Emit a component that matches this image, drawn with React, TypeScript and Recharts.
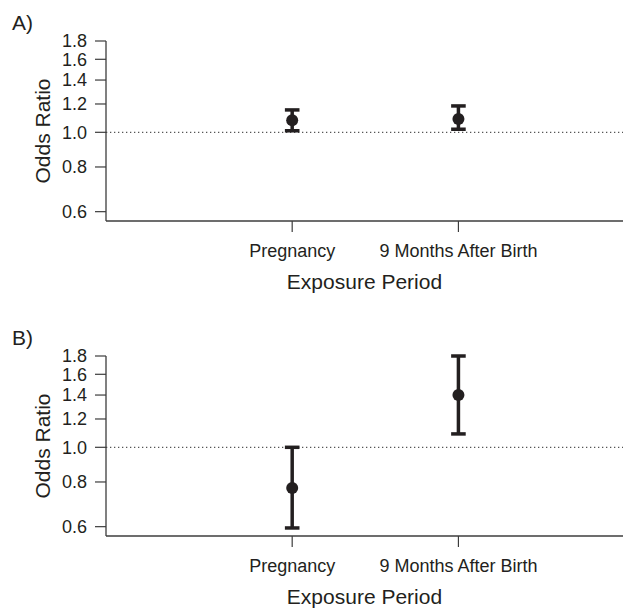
import {
  ScatterChart, Scatter, XAxis, YAxis, ErrorBar, ReferenceLine,
} from 'recharts';

// Exposure periods (x categories)
const CATEGORIES = ['Pregnancy', '9 Months After Birth'];

// Panel A: odds ratios with 95% CI
const A_OR = [1.08, 1.09];
const A_LOWER = [1.01, 1.02];
const A_UPPER = [1.155, 1.185];

// Panel B: odds ratios with 95% CI
const B_OR = [0.77, 1.4];
const B_LOWER = [0.595, 1.09];
const B_UPPER = [1.0, 1.8];

const Y_TICKS = [0.6, 0.8, 1.0, 1.2, 1.4, 1.6, 1.8];

const INK = '#231f20';
const AXIS = '#3c3c3c';
const FONT = "'Liberation Sans', Arial, Helvetica, sans-serif";

const TICK = { fontSize: 18, fill: INK, fontFamily: FONT };

function buildRows(or: number[], lower: number[], upper: number[]) {
  return CATEGORIES.map((name, i) => ({
    name,
    x: i + 1,
    or: or[i],
    err: [or[i] - lower[i], upper[i] - or[i]],
  }));
}

interface PanelProps {
  tag: string;
  or: number[];
  lower: number[];
  upper: number[];
}

function Panel({ tag, or, lower, upper }: PanelProps) {
  const rows = buildRows(or, lower, upper);
  return (
    <ScatterChart
      width={623}
      height={315}
      margin={{ top: 41, right: 0, bottom: 0, left: 0 }}
    >
      <XAxis
        type="number"
        dataKey="x"
        domain={[-0.12, 2.99]}
        ticks={[1, 2]}
        interval={0}
        allowDataOverflow
        tickFormatter={(v: number) => CATEGORIES[v - 1] ?? ''}
        tick={TICK}
        tickSize={11}
        tickMargin={12}
        height={94}
        axisLine={{ stroke: AXIS, strokeWidth: 1.3 }}
        tickLine={{ stroke: AXIS, strokeWidth: 1.2 }}
        label={{
          value: 'Exposure Period',
          position: 'insideBottom',
          offset: 26,
          style: { fontSize: 21, fill: INK, fontFamily: FONT },
        }}
      />
      <YAxis
        type="number"
        dataKey="or"
        scale="log"
        domain={[0.565, 1.8]}
        allowDataOverflow
        ticks={Y_TICKS}
        interval={0}
        tickFormatter={(v: number) => v.toFixed(1)}
        tick={TICK}
        tickSize={11}
        tickMargin={8}
        width={106}
        axisLine={{ stroke: AXIS, strokeWidth: 1.3 }}
        tickLine={{ stroke: AXIS, strokeWidth: 1.2 }}
        label={{
          content: (p: any) => {
            const vb = p.viewBox || { y: 41, height: 180 };
            const cy = vb.y + vb.height / 2;
            return (
              <g>
                <text
                  x={12}
                  y={30}
                  fontSize={21}
                  fill={INK}
                  fontFamily={FONT}
                >
                  {tag}
                </text>
                <text
                  transform={`translate(50, ${cy}) rotate(-90)`}
                  textAnchor="middle"
                  fontSize={21}
                  fill={INK}
                  fontFamily={FONT}
                >
                  Odds Ratio
                </text>
              </g>
            );
          },
        }}
      />
      <ReferenceLine
        y={1}
        stroke="#555"
        strokeWidth={1.2}
        strokeDasharray="1.3 2.7"
      />
      <Scatter
        data={rows}
        isAnimationActive={false}
        shape={(p: any) => <circle cx={p.cx} cy={p.cy} r={6} fill={INK} />}
      >
        <ErrorBar
          dataKey="err"
          direction="y"
          width={7.3}
          stroke={INK}
          strokeWidth={3.5}
          isAnimationActive={false}
        />
      </Scatter>
    </ScatterChart>
  );
}

export default function App() {
  return (
    <div
      style={{
        position: 'absolute',
        left: 0,
        top: 0,
        width: 623,
        height: 608,
        overflow: 'hidden',
        background: '#fff',
      }}
    >
      <div style={{ position: 'absolute', left: 0, top: 0 }}>
        <Panel tag="A)" or={A_OR} lower={A_LOWER} upper={A_UPPER} />
      </div>
      <div style={{ position: 'absolute', left: 0, top: 315 }}>
        <Panel tag="B)" or={B_OR} lower={B_LOWER} upper={B_UPPER} />
      </div>
    </div>
  );
}
